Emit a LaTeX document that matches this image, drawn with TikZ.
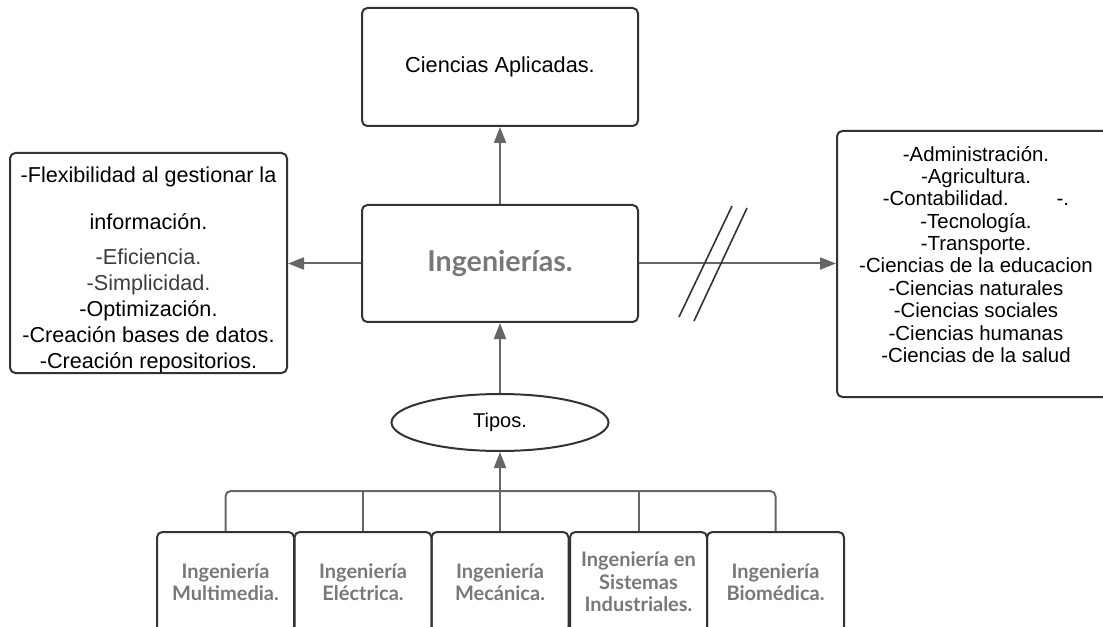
\documentclass[tikz,border=0pt]{standalone}
\usepackage{fontspec}
\setmainfont{Liberation Sans}
\newfontfamily\latofont{Lato}
\usepackage{tikz}
\usetikzlibrary{arrows.meta,shapes.geometric}
\definecolor{lineagris}{HTML}{666666}
\definecolor{bordegris}{HTML}{333333}
\definecolor{textogris}{HTML}{787878}
\definecolor{textooscuro}{HTML}{3c3c3c}

\begin{document}
\begin{tikzpicture}[
        x=0.75pt, y=-0.75pt,
        caja/.style={draw=bordegris, line width=1.5pt, rounded corners=4pt, align=center, inner sep=0pt},
        tipo/.style={caja, minimum width=102.75pt, minimum height=75pt, text=textogris,
            font=\latofont\bfseries\fontsize{15}{16.8}\selectfont},
        flecha/.style={draw=lineagris, line width=1.5pt, -{Triangle[length=12pt,width=9pt]}},
        rama/.style={draw=lineagris, line width=1.5pt, rounded corners=4pt},
    ]
    \tikzstyle{corte}=[draw=bordegris, line width=1.2pt]
    \clip (0,0) rectangle (1103,627);
    % centro
    \node (ciencias) [caja, minimum width=207pt, minimum height=88.5pt, font=\fontsize{16.3}{19}\selectfont] at (500,67) {Ciencias Aplicadas.};
    \node (ing) [caja, minimum width=207pt, minimum height=87.75pt, text=textogris,
        font=\latofont\bfseries\fontsize{21.5}{24}\selectfont] at (500,263.5) {Ingenierías.};
    \node (tipos) [ellipse, draw=bordegris, line width=1.5pt, minimum width=162.75pt, minimum height=42.75pt,
        inner sep=0pt, font=\fontsize{15}{18}\selectfont] at (500,422.5) {Tipos.};
    % lados
    \node (ventajas) [caja, minimum width=207.75pt, minimum height=165pt] at (148.5,263)
        {\parbox[c][165pt][t]{205pt}{\centering\fontsize{16.2}{19.5}\selectfont
        \rule{0pt}{22.5pt}-Flexibilidad al gestionar la\\[15.75pt]
        información.\\[6.75pt]
        {\color{textooscuro}-Eficiencia.}\\
        {\color{textooscuro}-Simplicidad.}\\
        -Optimización.\\
        -Creación bases de datos.\\
        -Creación repositorios.}};
    \node (areas) [caja, minimum width=208.5pt, minimum height=199.5pt] at (976,264)
        {\parbox[c][199.5pt][t]{205pt}{\centering\fontsize{15.3}{16.8}\selectfont
        \rule{0pt}{22.5pt}-Administración.\\
        -Agricultura.\\
        -Contabilidad.\hspace{2.35em}-.\\
        -Tecnología.\\
        -Transporte.\\
        -Ciencias de la educacion\\
        -Ciencias naturales\\
        -Ciencias sociales\\
        -Ciencias humanas\\
        -Ciencias de la salud}};
    % tipos de ingenieria
    \node (multi) [tipo] at (225.5,582) {Ingeniería\\Multimedia.};
    \node (elec) [tipo] at (363,582) {Ingeniería\\Eléctrica.};
    \node (meca) [tipo] at (500,582) {Ingeniería\\Mecánica.};
    \node (sist) [tipo] at (638.5,582) {Ingeniería en\\Sistemas\\Industriales.};
    \node (biom) [tipo] at (775.5,582) {Ingeniería\\Biomédica.};
    \coordinate (bus) at (500,491);
    % conectores
    \draw[flecha] (ing) -- (ciencias);
    \draw[flecha] (ing.west) -- (ventajas.east |- ing.west);
    \draw[flecha] (ing.east) -- (areas.west |- ing.east);
    \draw[flecha] (tipos) -- (ing);
    \draw[rama] (multi.north) |- (bus) -| (biom.north);
    \draw[rama] (elec.north) -- (elec.north |- bus);
    \draw[rama] (meca.north) -- (bus);
    \draw[rama] (sist.north) -- (sist.north |- bus);
    \draw[flecha] (bus) -- (tipos);
    \draw[corte] (679,317) -- (732,206);
    \draw[corte] (694,321) -- (747,208);
\end{tikzpicture}
\end{document}
